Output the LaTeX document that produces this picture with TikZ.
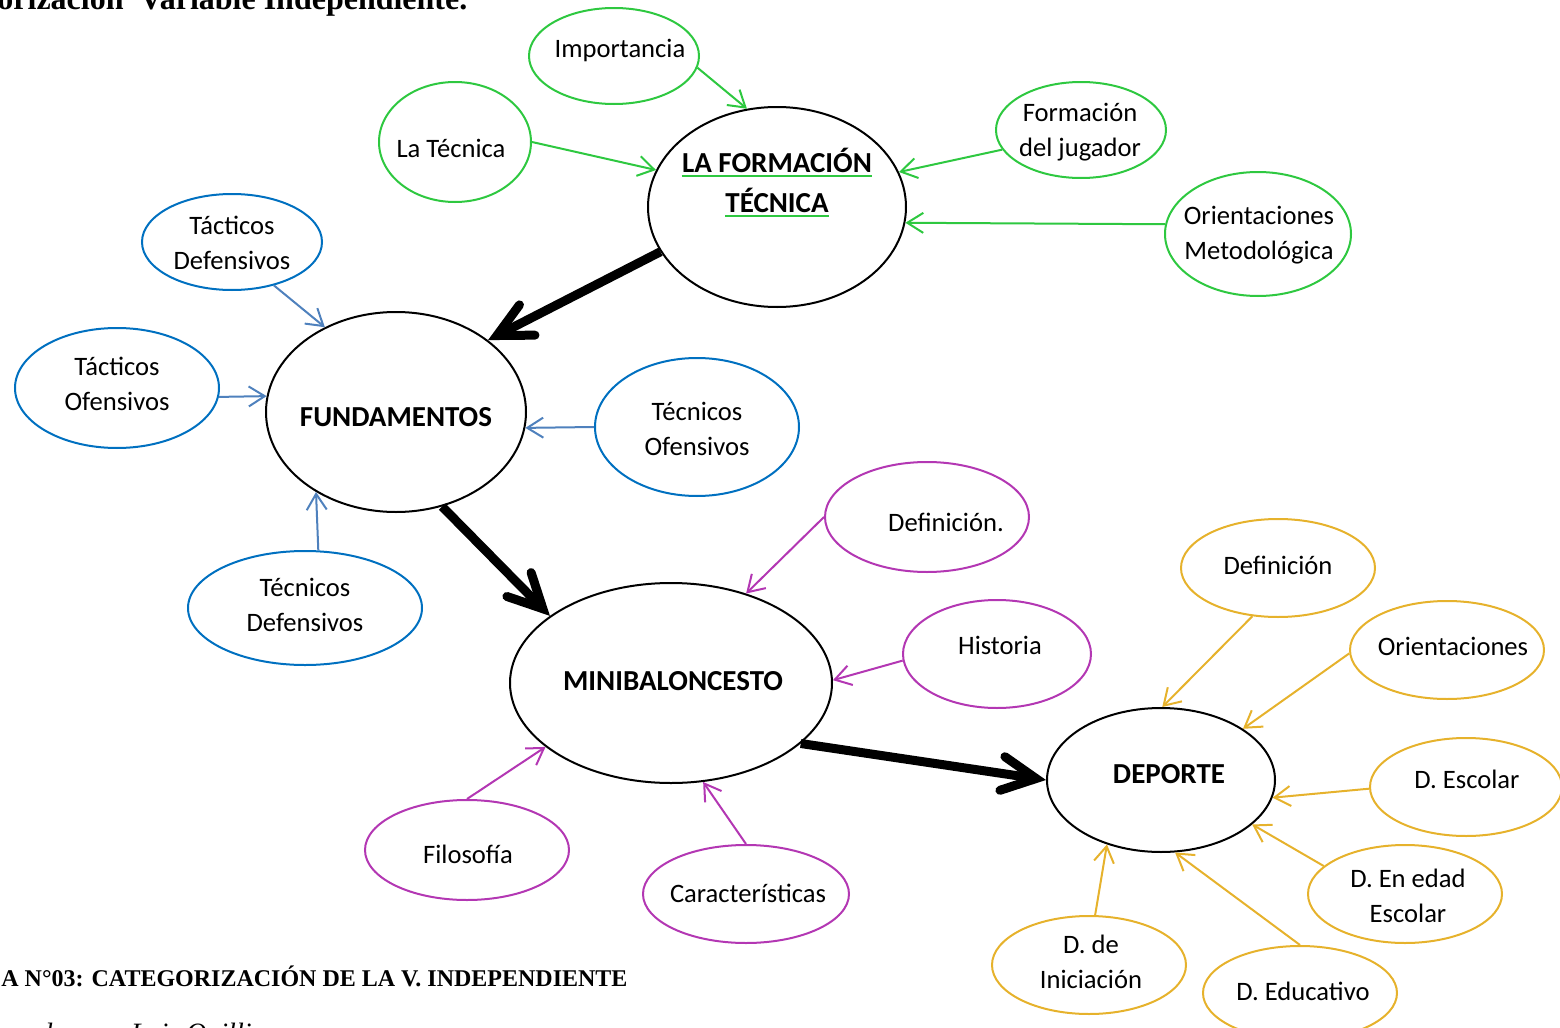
\documentclass[tikz,border=0pt]{standalone}
\usepackage{fontspec}
\setmainfont{Liberation Serif}
\newfontfamily\carl{Carlito}
\usetikzlibrary{shapes.geometric,arrows.meta}
\definecolor{cgreen}{RGB}{46,200,64}
\definecolor{cblue}{RGB}{0,112,192}
\definecolor{cbluearr}{RGB}{79,129,189}
\definecolor{cpurple}{RGB}{179,55,179}
\definecolor{cyellow}{RGB}{230,178,44}
\begin{document}
\begin{tikzpicture}[x=0.5pt,y=-0.5pt,
  el/.style={ellipse,line width=1pt,inner sep=0pt},
  gel/.style={el,draw=cgreen},
  bel/.style={el,draw=cblue},
  pel/.style={el,draw=cpurple},
  yel/.style={el,draw=cyellow},
  kel/.style={el,draw=black},
  lbl/.style={font=\carl\fontsize{13.3}{17.5}\selectfont,align=center,inner sep=0pt},
  blbl/.style={font=\carl\bfseries\fontsize{14.5}{20}\selectfont,align=center,inner sep=0pt},
  uline/.style={draw=cgreen,line width=1pt},
  thinarr/.style={line width=1pt,-{Straight Barb[length=8pt,width=10pt]}},
  bigarr/.style={line width=4.5pt,-{Straight Barb[length=17pt,width=17pt,line cap=round,line join=miter]}},
  ttl/.style={anchor=base west,inner sep=0pt}
]
\useasboundingbox (0,0) rectangle (1560,1028);

% titles
\node[ttl,font=\bfseries\fontsize{16}{19}\selectfont] (title) at (-3,10) {orización\ \ Variable Independiente.};
\node[ttl,font=\bfseries\fontsize{12}{14}\selectfont] (caption) at (1,986) {A N°03: CATEGORIZACIÓN DE LA V. INDEPENDIENTE};
\node[anchor=base east,inner sep=0pt,font=\itshape\fontsize{14}{17}\selectfont] (elab) at (252,1042) {Elaborado por: Luis Quilli};

% black ellipses
\node[kel,minimum width=129pt,minimum height=100pt] (form) at (777,207) {};
\node[blbl,anchor=base] (formt1) at (777,172) {LA FORMACIÓN};
\node[blbl,anchor=base] (formt2) at (777,212) {TÉCNICA};
\draw[uline] ([yshift=-2.2pt]formt1.base west) -- ([yshift=-2.2pt]formt1.base east);
\draw[uline] ([yshift=-2.2pt]formt2.base west) -- ([yshift=-2.2pt]formt2.base east);
\node[kel,minimum width=130pt,minimum height=100pt] (fund) at (396,412) {};
\node[blbl] (fundt) at (396,417) {FUNDAMENTOS};
\node[kel,minimum width=161pt,minimum height=100pt] (mini) at (671,683) {};
\node[blbl] (minit) at (673,681) {MINIBALONCESTO};
\node[kel,minimum width=114pt,minimum height=72pt] (dep) at (1161,780) {};
\node[blbl] (dept) at (1169,774) {DEPORTE};

% green
\node[gel,minimum width=85pt,minimum height=48pt] (imp) at (614,56) {};
\node[lbl] (impt) at (620,50) {Importancia};
\node[gel,minimum width=76pt,minimum height=60pt] (tec) at (455,142) {};
\node[lbl] (tect) at (451,148) {La Técnica};
\node[gel,minimum width=85pt,minimum height=48pt] (fj) at (1081,130) {};
\node[lbl] (fjt) at (1080,132) {Formación\\del jugador};
\node[gel,minimum width=93pt,minimum height=62pt] (om) at (1258,234) {};
\node[lbl] (omt) at (1259,235) {Orientaciones\\Metodológica};

% blue
\node[bel,minimum width=90pt,minimum height=48pt] (tdf) at (232,242) {};
\node[lbl] (tdft) at (232,243) {Tácticos\\Defensivos};
\node[bel,minimum width=102pt,minimum height=60pt] (tof) at (117,388) {};
\node[lbl] (toft) at (117,384) {Tácticos\\Ofensivos};
\node[bel,minimum width=102pt,minimum height=69pt] (teo) at (697,427) {};
\node[lbl] (teot) at (697,429) {Técnicos\\Ofensivos};
\node[bel,minimum width=117pt,minimum height=57pt] (ted) at (305,608) {};
\node[lbl] (tedt) at (305,605) {Técnicos\\Defensivos};

% purple
\node[pel,minimum width=102pt,minimum height=55pt] (pdef) at (927,517) {};
\node[lbl] (pdeft) at (946,522) {Definición.};
\node[pel,minimum width=94pt,minimum height=54pt] (his) at (997,654) {};
\node[lbl] (hist) at (1000,645) {Historia};
\node[pel,minimum width=102pt,minimum height=50pt] (fil) at (467,850) {};
\node[lbl] (filt) at (468,854) {Filosofía};
\node[pel,minimum width=103pt,minimum height=49pt] (car) at (746,894) {};
\node[lbl] (cart) at (748,893) {Características};

% yellow
\node[yel,minimum width=97pt,minimum height=49pt] (ydef) at (1278,568) {};
\node[lbl] (ydeft) at (1278,565) {Definición};
\node[yel,minimum width=97pt,minimum height=49pt] (yor) at (1447,650) {};
\node[lbl] (yort) at (1453,646) {Orientaciones};
\node[yel,minimum width=96pt,minimum height=49pt] (desc) at (1466,787) {};
\node[lbl] (desct) at (1467,779) {D. Escolar};
\node[yel,minimum width=97pt,minimum height=49pt] (ded) at (1405,894) {};
\node[lbl] (dedt) at (1408,896) {D. En edad\\Escolar};
\node[yel,minimum width=97pt,minimum height=47pt] (dedu) at (1300,993) {};
\node[lbl] (dedut) at (1303,991) {D. Educativo};
\node[yel,minimum width=97pt,minimum height=49pt] (dini) at (1089,965) {};
\node[lbl] (dinit) at (1091,962) {D. de\\Iniciación};

% green arrows
\draw[thinarr,cgreen] (imp.-8) -- (form.107);
\draw[thinarr,cgreen] (tec.0) -- (form.163);
\draw[thinarr,cgreen] (fj.194) -- (form.16);
\draw[thinarr,cgreen] (om.174) -- (form.-7.3);

% blue arrows
\draw[thinarr,cbluearr] (tdf.-46) -- (fund.130);
\draw[thinarr,cbluearr] (tof.-5) -- (fund.173.4);
\draw[thinarr,cbluearr] (teo.180) -- (fund.-7.3);
\draw[thinarr,cbluearr] (ted.77) -- (fund.225.5);

% purple arrows
\draw[thinarr,cpurple] (pdef.180) -- (mini.50.5);
\draw[thinarr,cpurple] (his.184) -- (mini.1);
\draw[thinarr,cpurple] (fil.90) -- (mini.207);
\draw[thinarr,cpurple] (car.90) -- (mini.-72.4);

% yellow arrows
\draw[thinarr,cyellow] (ydef.242) -- (dep.89);
\draw[thinarr,cyellow] (yor.182) -- (dep.32.4);
\draw[thinarr,cyellow] (desc.181) -- (dep.-9);
\draw[thinarr,cyellow] (ded.161) -- (dep.-26.6);
\draw[thinarr,cyellow] (dedu.90) -- (dep.-79);
\draw[thinarr,cyellow] (dini.83.5) -- (dep.230);

% black thick arrows
\draw[bigarr] (form.201) -- (fund.38.4);
\draw[bigarr] (fund.-64.6) -- (mini.151.7);
\draw[bigarr] (mini.-25) -- (dep.180);
\end{tikzpicture}
\end{document}
